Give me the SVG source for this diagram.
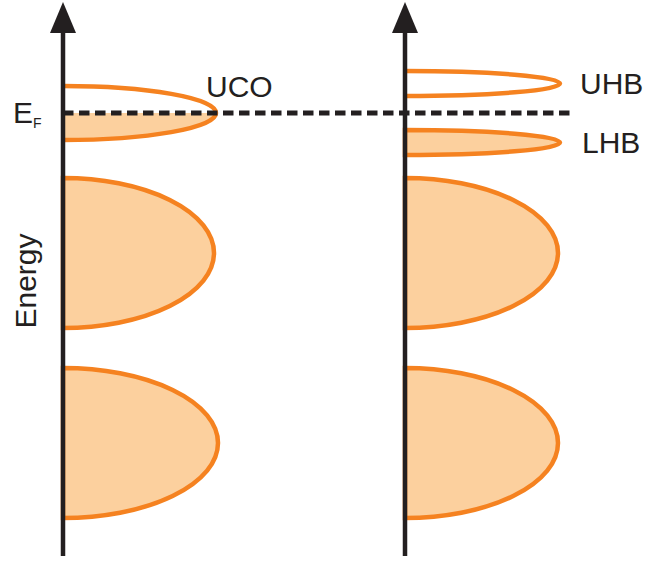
<svg xmlns="http://www.w3.org/2000/svg" width="648" height="563" viewBox="0 0 648 563">
<defs>
<style>
.band{fill:#FCD09E;stroke:#F58220;stroke-width:4.5}
.empty{fill:none;stroke:#F58220;stroke-width:4.5}
.fillonly{fill:#FCD09E;stroke:none}
.axis{stroke:#231F20;stroke-width:4.5;fill:none}
.head{fill:#231F20}
.ef{stroke:#231F20;stroke-width:5;stroke-dasharray:10.5 5.5;fill:none}
.lbl{font-family:"Liberation Sans",Arial,sans-serif;fill:#231F20;font-size:30px}
</style>
</defs>
<g id="left-bands">
<g id="uco">
<path class="fillonly" d="M63,113 L216,113 A153,27.5 0 0 1 63,140.5 Z"/>
<path class="empty" d="M63,86 A153,27 0 0 1 63,140"/>
</g>
<g id="left-band-mid"><path class="band" d="M63,178 A151,75 0 0 1 63,328 Z"/></g>
<g id="left-band-low"><path class="band" d="M63,368 A155,75 0 0 1 63,518 Z"/></g>
</g>
<g id="right-bands">
<g id="uhb"><path class="empty" d="M405,71 A155,12.5 0 0 1 405,96"/></g>
<g id="lhb"><path class="band" d="M405,130 A155,12.5 0 0 1 405,155 Z"/></g>
<g id="right-band-mid"><path class="band" d="M405,178 A153,75 0 0 1 405,328 Z"/></g>
<g id="right-band-low"><path class="band" d="M405,368 A153,75 0 0 1 405,518 Z"/></g>
</g>
<g id="connectors">
<line class="ef" x1="63" y1="113" x2="572" y2="113"/>
<line class="axis" x1="63" y1="556" x2="63" y2="28"/>
<polygon class="head" points="63,2 76,33 50,33"/>
<line class="axis" x1="405" y1="556" x2="405" y2="28"/>
<polygon class="head" points="405,2 418,33 392,33"/>
</g>
<g id="labels">
<text class="lbl" x="206" y="97">UCO</text>
<text class="lbl" x="580" y="94">UHB</text>
<text class="lbl" x="582" y="153">LHB</text>
<text class="lbl" x="13" y="123">E<tspan font-size="14" dy="5">F</tspan></text>
<text class="lbl" x="0" y="0" font-size="31" text-anchor="middle" transform="translate(36,281) rotate(-90)">Energy</text>
</g>
</svg>
